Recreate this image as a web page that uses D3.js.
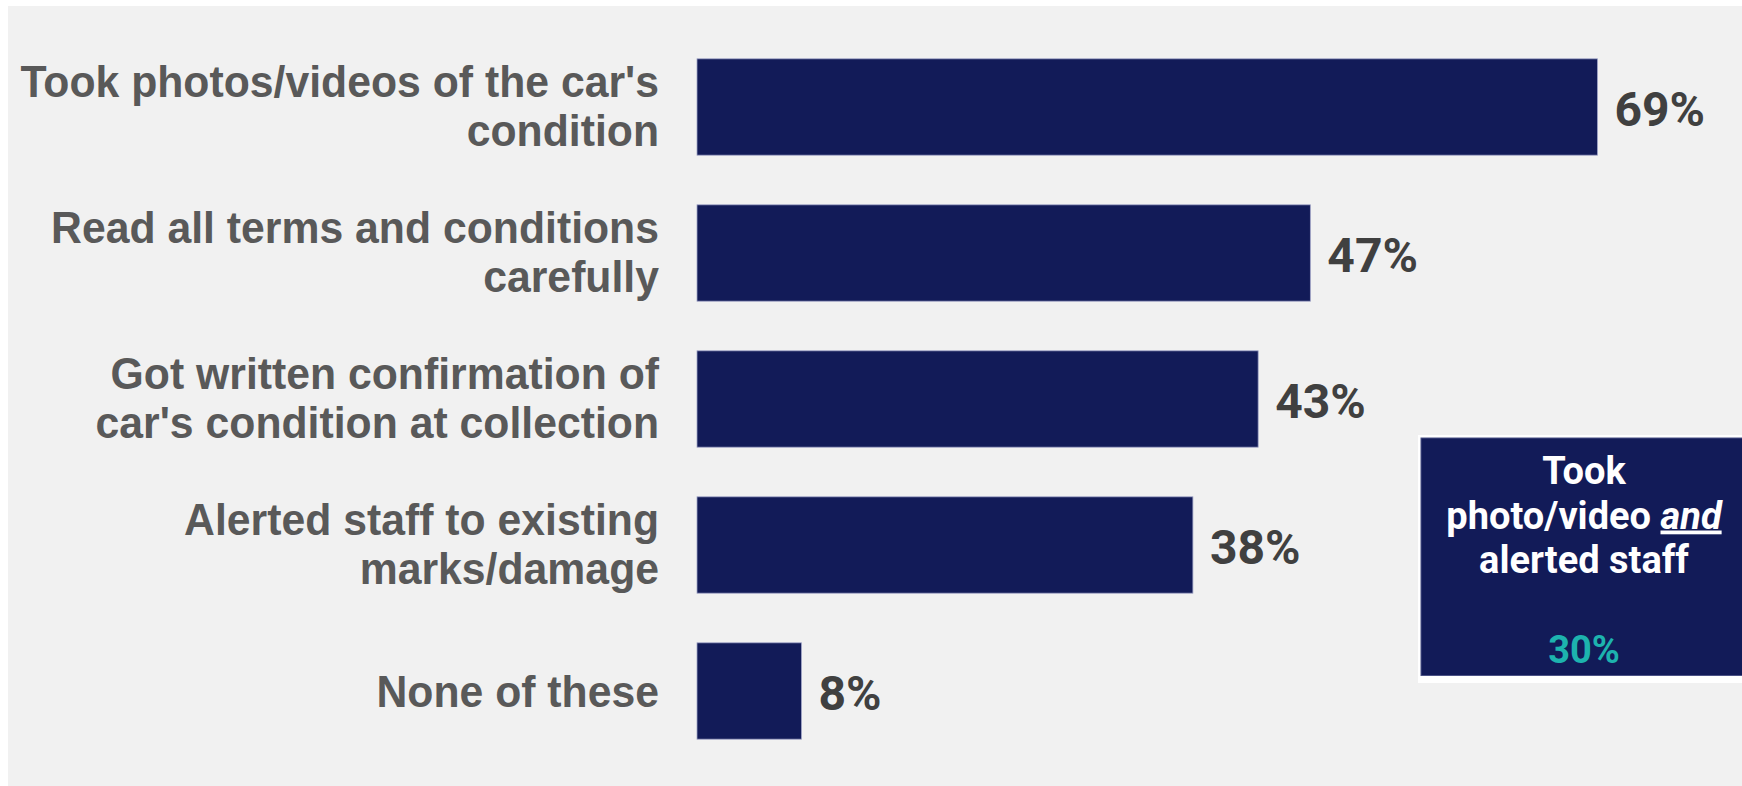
<!DOCTYPE html>
<html>
<head>
<meta charset="utf-8">
<script src="https://cdn.jsdelivr.net/npm/d3@7"></script>
<style>
  html, body { margin: 0; padding: 0; background: #ffffff; }
  svg { display: block; }
</style>
</head>
<body>
<svg id="chart" width="1742" height="786"></svg>
<script>
// ---- data ----
const categories = [
  "Took photos/videos of the car's condition",
  "Read all terms and conditions carefully",
  "Got written confirmation of car's condition at collection",
  "Alerted staff to existing marks/damage",
  "None of these"
];
const categoryLines = [
  ["Took photos/videos of the car's", "condition"],
  ["Read all terms and conditions", "carefully"],
  ["Got written confirmation of", "car's condition at collection"],
  ["Alerted staff to existing", "marks/damage"],
  ["None of these"]
];
const values = [69, 47, 43, 38, 8];
const calloutLines = ["Took", "photo/video ", "alerted staff"];
const calloutEmphasis = "and";
const calloutValue = 30;

// ---- layout ----
const W = 1742, H = 786;
const svg = d3.select("#chart");

svg.append("rect").attr("x", 8).attr("y", 6).attr("width", W - 8).attr("height", H - 6)
  .attr("fill", "#f1f1f1");

const x = d3.scaleLinear().domain([0, 100]).range([697, 697 + 1305]);
const y = d3.scaleBand().domain(categories).range([34, 764])
  .paddingInner(0.34).paddingOuter(0.17);

const barColor = "#121b58";

svg.append("g").selectAll("rect").data(categories).join("rect")
  .attr("x", x(0))
  .attr("y", d => y(d))
  .attr("width", (d, i) => x(values[i]) - x(0))
  .attr("height", y.bandwidth())
  .attr("fill", barColor)
  .attr("stroke", "#9fa3c6")
  .attr("stroke-width", 0.8);

// value labels
svg.append("g").selectAll("text").data(categories).join("text")
  .attr("x", (d, i) => x(values[i]) + 17)
  .attr("y", d => y(d) + y.bandwidth() / 2 + 19)
  .attr("font-family", "Roboto, 'Liberation Sans', sans-serif")
  .attr("font-weight", 700)
  .attr("font-size", 48)
  .attr("fill", "#404040")
  .text((d, i) => values[i] + "%");

// category labels
const labelG = svg.append("g");
categories.forEach((c, i) => {
  const lines = categoryLines[i];
  const cy = y(c) + y.bandwidth() / 2;
  const lineH = 50;
  const firstBase = lines.length === 1 ? cy + 15.5 : cy - 10.5;
  const t = labelG.append("text")
    .attr("transform", `translate(659,${firstBase}) scale(0.95,1)`)
    .attr("text-anchor", "end")
    .attr("font-family", "'Liberation Sans', Arial, sans-serif")
    .attr("font-weight", 700)
    .attr("font-size", 45)
    .attr("fill", "#595959");
  lines.forEach((ln, j) => {
    t.append("tspan").attr("x", 0).attr("y", j * lineH).text(ln);
  });
});

// callout box
svg.append("rect").attr("x", 1418).attr("y", 435).attr("width", 330).attr("height", 248)
  .attr("fill", "#ffffff");
svg.append("rect").attr("x", 1421).attr("y", 438).attr("width", 330).attr("height", 237.5)
  .attr("fill", barColor).attr("stroke", "#4b5286").attr("stroke-width", 1);

const cx = 1584;
const ct = svg.append("text")
  .attr("text-anchor", "middle")
  .attr("font-family", "Roboto, 'Liberation Sans', sans-serif")
  .attr("font-weight", 700)
  .attr("font-size", 38)
  .attr("fill", "#ffffff");
ct.append("tspan").attr("x", cx).attr("y", 484).text(calloutLines[0]);
const l2 = ct.append("tspan").attr("x", cx).attr("y", 528.5);
l2.append("tspan").text(calloutLines[1]);
l2.append("tspan").attr("font-style", "italic").attr("text-decoration", "underline").text(calloutEmphasis);
ct.append("tspan").attr("x", cx).attr("y", 573).text(calloutLines[2]);

svg.append("text")
  .attr("x", cx).attr("y", 663)
  .attr("text-anchor", "middle")
  .attr("font-family", "Roboto, 'Liberation Sans', sans-serif")
  .attr("font-weight", 700)
  .attr("font-size", 38)
  .attr("fill", "#1db3ae")
  .text(calloutValue + "%");
</script>
</body>
</html>
